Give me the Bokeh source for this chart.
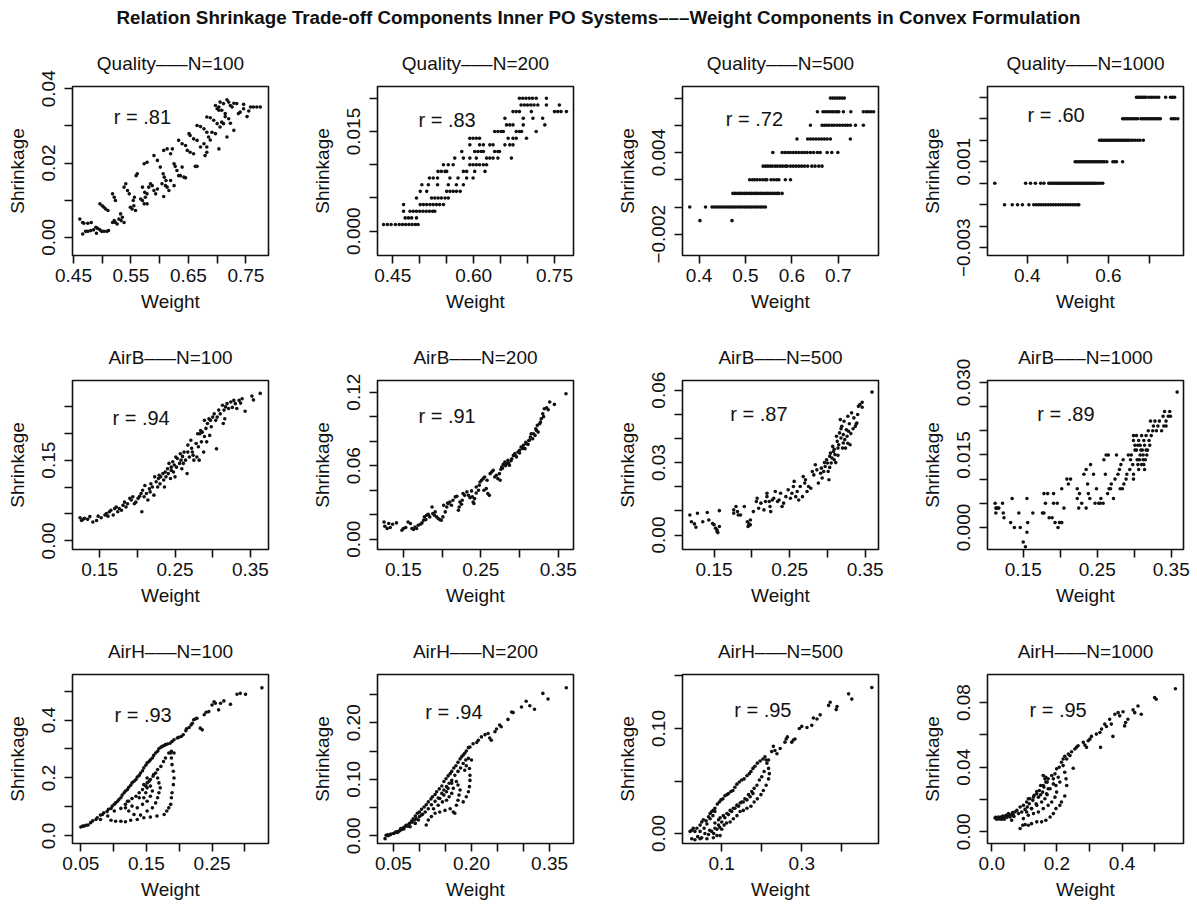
import math
from bokeh.plotting import figure
from bokeh.models import FixedTicker, Range1d, Label, Div
from bokeh.layouts import gridplot, column
from bokeh.embed import file_html
from bokeh.resources import INLINE

FONT = "Liberation Sans"

# ---- (weight, shrinkage) pairs per design ----
quality_100 = [
    (0.461, 0.0049), (0.466, 0.0040), (0.468, 0.0038), (0.475, 0.0038), (0.481, 0.0040),
    (0.466, 0.0009), (0.471, 0.0016), (0.475, 0.0016), (0.480, 0.0018), (0.485, 0.0020),
    (0.489, 0.0027), (0.492, 0.0024), (0.490, 0.0011), (0.496, 0.0020), (0.499, 0.0016),
    (0.503, 0.0016), (0.508, 0.0016), (0.511, 0.0018), (0.496, 0.0090), (0.500, 0.0085),
    (0.503, 0.0081), (0.506, 0.0076), (0.510, 0.0072), (0.518, 0.0117), (0.521, 0.0108),
    (0.523, 0.0099), (0.521, 0.0045), (0.523, 0.0040), (0.526, 0.0036), (0.518, 0.0040),
    (0.529, 0.0049), (0.533, 0.0045), (0.538, 0.0040), (0.535, 0.0054), (0.532, 0.0063),
    (0.538, 0.0135), (0.541, 0.0144), (0.544, 0.0126), (0.547, 0.0117), (0.549, 0.0081),
    (0.552, 0.0076), (0.555, 0.0085), (0.558, 0.0072), (0.554, 0.0099), (0.556, 0.0108),
    (0.559, 0.0166), (0.561, 0.0171), (0.567, 0.0103), (0.570, 0.0099), (0.573, 0.0090),
    (0.575, 0.0108), (0.578, 0.0090), (0.570, 0.0135), (0.574, 0.0121), (0.578, 0.0117),
    (0.573, 0.0198), (0.578, 0.0202), (0.581, 0.0135), (0.584, 0.0144), (0.587, 0.0139),
    (0.590, 0.0126), (0.593, 0.0117), (0.596, 0.0130), (0.590, 0.0220), (0.596, 0.0207),
    (0.601, 0.0189), (0.606, 0.0171), (0.608, 0.0162), (0.611, 0.0153), (0.607, 0.0110),
    (0.604, 0.0144), (0.610, 0.0139), (0.613, 0.0135), (0.616, 0.0126), (0.619, 0.0153),
    (0.625, 0.0139), (0.607, 0.0234), (0.613, 0.0238), (0.619, 0.0225), (0.622, 0.0238),
    (0.625, 0.0198), (0.627, 0.0191), (0.630, 0.0180), (0.633, 0.0166), (0.636, 0.0166),
    (0.639, 0.0189), (0.642, 0.0162), (0.645, 0.0160), (0.633, 0.0261), (0.639, 0.0252),
    (0.645, 0.0247), (0.648, 0.0234), (0.653, 0.0229), (0.659, 0.0225), (0.662, 0.0191),
    (0.665, 0.0191), (0.651, 0.0279), (0.653, 0.0274), (0.659, 0.0265), (0.665, 0.0261),
    (0.671, 0.0243), (0.677, 0.0252), (0.682, 0.0229), (0.679, 0.0220), (0.682, 0.0243),
    (0.665, 0.0301), (0.671, 0.0298), (0.677, 0.0292), (0.682, 0.0283), (0.685, 0.0270),
    (0.688, 0.0262), (0.691, 0.0283), (0.697, 0.0279), (0.703, 0.0238), (0.682, 0.0324),
    (0.688, 0.0322), (0.694, 0.0315), (0.700, 0.0306), (0.705, 0.0297), (0.708, 0.0310),
    (0.711, 0.0306), (0.717, 0.0270), (0.697, 0.0355), (0.703, 0.0351), (0.708, 0.0342),
    (0.714, 0.0333), (0.720, 0.0319), (0.723, 0.0307), (0.729, 0.0288), (0.700, 0.0346),
    (0.705, 0.0364), (0.711, 0.0360), (0.717, 0.0370), (0.720, 0.0364), (0.723, 0.0355),
    (0.726, 0.0351), (0.729, 0.0361), (0.734, 0.0360), (0.737, 0.0333), (0.740, 0.0337),
    (0.746, 0.0346), (0.752, 0.0325), (0.755, 0.0340), (0.758, 0.0351), (0.763, 0.0351),
    (0.769, 0.0351), (0.775, 0.0351), (0.746, 0.0358), (0.703, 0.0342), (0.714, 0.0325),
]

quality_200 = [
    (0.433, 0.001), (0.440, 0.001), (0.447, 0.001), (0.455, 0.001), (0.462, 0.001), (0.468, 0.001),
    (0.474, 0.001), (0.480, 0.001), (0.486, 0.001), (0.492, 0.001), (0.497, 0.001),
    (0.473, 0.002), (0.479, 0.002), (0.485, 0.002), (0.494, 0.002),
    (0.470, 0.003), (0.482, 0.003), (0.488, 0.003), (0.494, 0.003), (0.500, 0.003), (0.506, 0.003),
    (0.512, 0.003), (0.518, 0.003), (0.524, 0.003), (0.528, 0.003),
    (0.470, 0.004), (0.501, 0.004), (0.507, 0.004), (0.513, 0.004), (0.519, 0.004), (0.525, 0.004),
    (0.531, 0.004), (0.537, 0.004), (0.544, 0.004),
    (0.494, 0.005), (0.522, 0.005), (0.528, 0.005), (0.534, 0.005), (0.540, 0.005), (0.547, 0.005),
    (0.553, 0.005),
    (0.501, 0.006), (0.513, 0.006), (0.550, 0.006), (0.556, 0.006), (0.562, 0.006), (0.568, 0.006),
    (0.575, 0.006),
    (0.504, 0.007), (0.516, 0.007), (0.533, 0.007), (0.553, 0.007), (0.568, 0.007), (0.581, 0.007),
    (0.518, 0.008), (0.525, 0.008), (0.533, 0.008), (0.556, 0.008), (0.571, 0.008), (0.587, 0.008),
    (0.599, 0.008),
    (0.534, 0.009), (0.540, 0.009), (0.547, 0.009), (0.550, 0.009), (0.581, 0.009), (0.587, 0.009),
    (0.602, 0.009), (0.621, 0.009),
    (0.544, 0.010), (0.553, 0.010), (0.562, 0.010), (0.593, 0.010), (0.599, 0.010), (0.605, 0.010),
    (0.611, 0.010), (0.618, 0.010), (0.624, 0.010),
    (0.565, 0.011), (0.581, 0.011), (0.593, 0.011), (0.605, 0.011), (0.624, 0.011), (0.630, 0.011),
    (0.636, 0.011), (0.645, 0.011), (0.670, 0.011),
    (0.578, 0.012), (0.602, 0.012), (0.608, 0.012), (0.614, 0.012), (0.618, 0.012), (0.639, 0.012),
    (0.645, 0.012), (0.648, 0.012),
    (0.593, 0.013), (0.611, 0.013), (0.618, 0.013), (0.630, 0.013), (0.636, 0.013), (0.658, 0.013),
    (0.667, 0.013), (0.673, 0.013),
    (0.593, 0.014), (0.599, 0.014), (0.605, 0.014), (0.611, 0.014), (0.664, 0.014), (0.673, 0.014),
    (0.679, 0.014), (0.698, 0.014),
    (0.639, 0.015), (0.645, 0.015), (0.651, 0.015), (0.655, 0.015), (0.679, 0.015), (0.685, 0.015),
    (0.689, 0.015), (0.716, 0.015),
    (0.661, 0.016), (0.667, 0.016), (0.673, 0.016), (0.692, 0.016), (0.732, 0.016),
    (0.658, 0.017), (0.692, 0.017), (0.710, 0.017), (0.728, 0.017),
    (0.673, 0.018), (0.679, 0.018), (0.685, 0.018), (0.707, 0.018), (0.750, 0.018), (0.756, 0.018),
    (0.762, 0.018), (0.772, 0.018),
    (0.688, 0.019), (0.694, 0.019), (0.700, 0.019), (0.706, 0.019), (0.712, 0.019), (0.719, 0.019),
    (0.735, 0.019), (0.759, 0.019),
    (0.685, 0.020), (0.691, 0.020), (0.697, 0.020), (0.703, 0.020), (0.709, 0.020), (0.716, 0.020),
    (0.735, 0.020),
]

quality_500 = [
    (0.683, 0.008), (0.688, 0.008), (0.693, 0.008), (0.698, 0.008), (0.703, 0.008), (0.708, 0.008),
    (0.713, 0.008),
    (0.655, 0.007), (0.667, 0.007), (0.672, 0.007), (0.677, 0.007), (0.682, 0.007), (0.687, 0.007),
    (0.692, 0.007), (0.697, 0.007), (0.701, 0.007), (0.711, 0.007), (0.727, 0.007), (0.754, 0.007),
    (0.760, 0.007), (0.765, 0.007), (0.770, 0.007), (0.776, 0.007),
    (0.640, 0.006), (0.665, 0.006), (0.670, 0.006), (0.675, 0.006), (0.680, 0.006), (0.686, 0.006),
    (0.691, 0.006), (0.697, 0.006), (0.703, 0.006), (0.709, 0.006), (0.715, 0.006), (0.720, 0.006),
    (0.726, 0.006), (0.737, 0.006), (0.754, 0.006),
    (0.611, 0.005), (0.634, 0.005), (0.640, 0.005), (0.646, 0.005), (0.652, 0.005), (0.658, 0.005),
    (0.664, 0.005), (0.670, 0.005), (0.676, 0.005), (0.683, 0.005), (0.726, 0.005),
    (0.559, 0.004), (0.579, 0.004), (0.585, 0.004), (0.591, 0.004), (0.597, 0.004), (0.603, 0.004),
    (0.609, 0.004), (0.615, 0.004), (0.621, 0.004), (0.627, 0.004), (0.633, 0.004), (0.640, 0.004),
    (0.647, 0.004), (0.655, 0.004), (0.661, 0.004), (0.676, 0.004), (0.686, 0.004), (0.699, 0.004),
    (0.538, 0.003), (0.543, 0.003), (0.548, 0.003), (0.553, 0.003), (0.558, 0.003), (0.564, 0.003),
    (0.569, 0.003), (0.575, 0.003), (0.580, 0.003), (0.586, 0.003), (0.590, 0.003), (0.597, 0.003),
    (0.603, 0.003), (0.609, 0.003), (0.615, 0.003), (0.621, 0.003), (0.627, 0.003), (0.634, 0.003),
    (0.643, 0.003), (0.650, 0.003), (0.658, 0.003), (0.665, 0.003),
    (0.509, 0.002), (0.515, 0.002), (0.520, 0.002), (0.525, 0.002), (0.531, 0.002), (0.537, 0.002),
    (0.543, 0.002), (0.546, 0.002), (0.555, 0.002), (0.561, 0.002), (0.567, 0.002), (0.572, 0.002),
    (0.586, 0.002), (0.597, 0.002),
    (0.473, 0.001), (0.478, 0.001), (0.483, 0.001), (0.488, 0.001), (0.493, 0.001), (0.498, 0.001),
    (0.503, 0.001), (0.508, 0.001), (0.513, 0.001), (0.518, 0.001), (0.523, 0.001), (0.528, 0.001),
    (0.533, 0.001), (0.538, 0.001), (0.543, 0.001), (0.548, 0.001), (0.553, 0.001), (0.558, 0.001),
    (0.563, 0.001), (0.568, 0.001), (0.572, 0.001), (0.579, 0.001),
    (0.380, 0.000), (0.414, 0.000), (0.428, 0.000), (0.433, 0.000), (0.438, 0.000), (0.443, 0.000),
    (0.448, 0.000), (0.453, 0.000), (0.458, 0.000), (0.463, 0.000), (0.468, 0.000), (0.473, 0.000),
    (0.478, 0.000), (0.483, 0.000), (0.488, 0.000), (0.493, 0.000), (0.498, 0.000), (0.503, 0.000),
    (0.508, 0.000), (0.513, 0.000), (0.518, 0.000), (0.523, 0.000), (0.528, 0.000), (0.533, 0.000),
    (0.538, 0.000), (0.543, 0.000),
    (0.402, -0.001), (0.471, -0.001),
]

quality_1000 = [
    (0.669, 0.004), (0.673, 0.004), (0.677, 0.004), (0.681, 0.004), (0.685, 0.004), (0.689, 0.004),
    (0.693, 0.004), (0.700, 0.004), (0.706, 0.004), (0.712, 0.004), (0.718, 0.004), (0.724, 0.004),
    (0.741, 0.004), (0.753, 0.004), (0.758, 0.004), (0.763, 0.004),
    (0.635, 0.003), (0.639, 0.003), (0.643, 0.003), (0.647, 0.003), (0.651, 0.003), (0.655, 0.003),
    (0.659, 0.003), (0.664, 0.003), (0.668, 0.003), (0.672, 0.003), (0.680, 0.003), (0.684, 0.003),
    (0.688, 0.003), (0.692, 0.003), (0.696, 0.003), (0.700, 0.003), (0.704, 0.003), (0.708, 0.003),
    (0.712, 0.003), (0.716, 0.003), (0.720, 0.003), (0.724, 0.003), (0.728, 0.003), (0.755, 0.003),
    (0.760, 0.003), (0.765, 0.003), (0.771, 0.003),
    (0.578, 0.002), (0.582, 0.002), (0.586, 0.002), (0.590, 0.002), (0.594, 0.002), (0.598, 0.002),
    (0.602, 0.002), (0.606, 0.002), (0.610, 0.002), (0.614, 0.002), (0.618, 0.002), (0.622, 0.002),
    (0.626, 0.002), (0.630, 0.002), (0.634, 0.002), (0.638, 0.002), (0.642, 0.002), (0.646, 0.002),
    (0.650, 0.002), (0.655, 0.002), (0.660, 0.002), (0.666, 0.002), (0.672, 0.002), (0.678, 0.002),
    (0.686, 0.002),
    (0.518, 0.001), (0.522, 0.001), (0.526, 0.001), (0.530, 0.001), (0.534, 0.001), (0.538, 0.001),
    (0.542, 0.001), (0.546, 0.001), (0.550, 0.001), (0.554, 0.001), (0.558, 0.001), (0.562, 0.001),
    (0.566, 0.001), (0.570, 0.001), (0.574, 0.001), (0.578, 0.001), (0.582, 0.001), (0.586, 0.001),
    (0.590, 0.001), (0.596, 0.001), (0.611, 0.001), (0.616, 0.001), (0.620, 0.001), (0.635, 0.001),
    (0.320, 0.000), (0.396, 0.000), (0.408, 0.000), (0.420, 0.000), (0.433, 0.000), (0.441, 0.000),
    (0.453, 0.000), (0.457, 0.000), (0.461, 0.000), (0.465, 0.000), (0.469, 0.000), (0.473, 0.000),
    (0.477, 0.000), (0.481, 0.000), (0.485, 0.000), (0.489, 0.000), (0.493, 0.000), (0.497, 0.000),
    (0.501, 0.000), (0.505, 0.000), (0.509, 0.000), (0.513, 0.000), (0.517, 0.000), (0.521, 0.000),
    (0.525, 0.000), (0.529, 0.000), (0.533, 0.000), (0.537, 0.000), (0.541, 0.000), (0.545, 0.000),
    (0.549, 0.000), (0.553, 0.000), (0.557, 0.000), (0.561, 0.000), (0.565, 0.000), (0.569, 0.000),
    (0.574, 0.000), (0.580, 0.000), (0.586, 0.000),
    (0.344, -0.001), (0.363, -0.001), (0.376, -0.001), (0.388, -0.001), (0.404, -0.001),
    (0.416, -0.001), (0.422, -0.001), (0.428, -0.001), (0.434, -0.001), (0.440, -0.001),
    (0.446, -0.001), (0.452, -0.001), (0.458, -0.001), (0.464, -0.001), (0.470, -0.001),
    (0.476, -0.001), (0.482, -0.001), (0.488, -0.001), (0.494, -0.001), (0.500, -0.001),
    (0.506, -0.001), (0.512, -0.001), (0.518, -0.001), (0.524, -0.001), (0.527, -0.001),
]

airb_100 = [
    (0.124, 0.043), (0.126, 0.038), (0.128, 0.040), (0.130, 0.042), (0.134, 0.040), (0.137, 0.045),
    (0.141, 0.035), (0.146, 0.038), (0.148, 0.046), (0.152, 0.043), (0.157, 0.048), (0.159, 0.051),
    (0.161, 0.046), (0.163, 0.054), (0.165, 0.057), (0.168, 0.048), (0.170, 0.060), (0.172, 0.063),
    (0.174, 0.054), (0.176, 0.060), (0.179, 0.057), (0.181, 0.066), (0.183, 0.072), (0.185, 0.063),
    (0.187, 0.069), (0.190, 0.079), (0.192, 0.076), (0.194, 0.082), (0.196, 0.069), (0.198, 0.072),
    (0.201, 0.079), (0.203, 0.083), (0.205, 0.088), (0.206, 0.054), (0.207, 0.094), (0.209, 0.082),
    (0.210, 0.103), (0.212, 0.088), (0.214, 0.076), (0.216, 0.097), (0.217, 0.091), (0.218, 0.106),
    (0.220, 0.100), (0.222, 0.085), (0.223, 0.119), (0.225, 0.110), (0.227, 0.100), (0.228, 0.116),
    (0.229, 0.122), (0.230, 0.106), (0.231, 0.119), (0.234, 0.125), (0.235, 0.113), (0.236, 0.100),
    (0.237, 0.128), (0.238, 0.119), (0.240, 0.134), (0.241, 0.125), (0.242, 0.144), (0.244, 0.116),
    (0.245, 0.131), (0.245, 0.137), (0.247, 0.147), (0.248, 0.128), (0.249, 0.141), (0.250, 0.119),
    (0.251, 0.156), (0.252, 0.137), (0.253, 0.153), (0.256, 0.144), (0.257, 0.162), (0.258, 0.150),
    (0.259, 0.134), (0.260, 0.157), (0.261, 0.144), (0.262, 0.165), (0.264, 0.150), (0.266, 0.125),
    (0.267, 0.165), (0.267, 0.178), (0.269, 0.156), (0.271, 0.187), (0.272, 0.172), (0.273, 0.165),
    (0.274, 0.159), (0.275, 0.150), (0.278, 0.181), (0.279, 0.156), (0.280, 0.199), (0.281, 0.175),
    (0.282, 0.150), (0.283, 0.199), (0.284, 0.205), (0.285, 0.184), (0.286, 0.202), (0.288, 0.165),
    (0.289, 0.224), (0.289, 0.194), (0.291, 0.209), (0.292, 0.184), (0.293, 0.218), (0.295, 0.227),
    (0.296, 0.196), (0.297, 0.224), (0.298, 0.212), (0.300, 0.230), (0.302, 0.236), (0.304, 0.224),
    (0.305, 0.171), (0.306, 0.230), (0.308, 0.243), (0.310, 0.236), (0.313, 0.252), (0.314, 0.218),
    (0.315, 0.243), (0.316, 0.227), (0.317, 0.249), (0.319, 0.255), (0.321, 0.246), (0.324, 0.258),
    (0.326, 0.248), (0.328, 0.261), (0.330, 0.255), (0.332, 0.246), (0.335, 0.261), (0.337, 0.256),
    (0.339, 0.264), (0.343, 0.241), (0.352, 0.269), (0.354, 0.262), (0.363, 0.274),
]

airb_200 = [
    (0.125, 0.0141), (0.126, 0.0106), (0.129, 0.0087), (0.131, 0.0128), (0.133, 0.0095),
    (0.136, 0.0122), (0.141, 0.0133), (0.148, 0.0073), (0.150, 0.0087), (0.153, 0.0095),
    (0.156, 0.0141), (0.159, 0.0128), (0.161, 0.0087), (0.163, 0.0079), (0.165, 0.0100),
    (0.167, 0.0087), (0.169, 0.0114), (0.172, 0.0122), (0.174, 0.0133), (0.176, 0.0155),
    (0.177, 0.0182), (0.179, 0.0160), (0.180, 0.0195), (0.182, 0.0204), (0.184, 0.0182),
    (0.187, 0.0263), (0.188, 0.0209), (0.190, 0.0195), (0.191, 0.0223), (0.193, 0.0182),
    (0.195, 0.0168), (0.197, 0.0160), (0.199, 0.0155), (0.201, 0.0182), (0.202, 0.0277),
    (0.204, 0.0223), (0.206, 0.0263), (0.207, 0.0296), (0.208, 0.0291), (0.210, 0.0304),
    (0.212, 0.0277), (0.214, 0.0318), (0.217, 0.0345), (0.219, 0.0350), (0.221, 0.0236),
    (0.222, 0.0263), (0.223, 0.0304), (0.225, 0.0285), (0.226, 0.0318), (0.227, 0.0372),
    (0.229, 0.0358), (0.232, 0.0386), (0.234, 0.0358), (0.236, 0.0339), (0.238, 0.0394),
    (0.239, 0.0345), (0.240, 0.0304), (0.241, 0.0291), (0.242, 0.0331), (0.244, 0.0377),
    (0.244, 0.0426), (0.247, 0.0399), (0.248, 0.0440), (0.249, 0.0467), (0.251, 0.0481),
    (0.253, 0.0494), (0.254, 0.0399), (0.255, 0.0508), (0.257, 0.0413), (0.258, 0.0481),
    (0.259, 0.0372), (0.261, 0.0358), (0.262, 0.0535), (0.264, 0.0548), (0.266, 0.0562),
    (0.268, 0.0508), (0.270, 0.0521), (0.272, 0.0494), (0.274, 0.0535), (0.275, 0.0481),
    (0.277, 0.0589), (0.279, 0.0611), (0.281, 0.0630), (0.283, 0.0616), (0.285, 0.0643),
    (0.287, 0.0603), (0.290, 0.0657), (0.292, 0.0684), (0.294, 0.0698), (0.296, 0.0671),
    (0.298, 0.0711), (0.300, 0.0703), (0.302, 0.0752), (0.305, 0.0766), (0.307, 0.0739),
    (0.309, 0.0779), (0.311, 0.0774), (0.312, 0.0806), (0.314, 0.0834), (0.315, 0.0861),
    (0.317, 0.0820), (0.320, 0.0847), (0.322, 0.0888), (0.323, 0.0929), (0.324, 0.0874),
    (0.326, 0.0942), (0.328, 0.0983), (0.330, 0.1024), (0.332, 0.1064), (0.335, 0.1073),
    (0.337, 0.1056), (0.339, 0.1119), (0.345, 0.1100), (0.360, 0.1187),
    (0.300, 0.0725), (0.304, 0.0740), (0.308, 0.0790), (0.313, 0.0810), (0.318, 0.0860),
    (0.321, 0.0900), (0.327, 0.0955), (0.331, 0.1000), (0.295, 0.0680), (0.289, 0.0640),
    (0.286, 0.0620), (0.282, 0.0600), (0.278, 0.0580), (0.276, 0.0570),
]

airb_500 = [
    (0.118, 0.0083), (0.120, 0.0055), (0.124, 0.0046), (0.126, 0.0032), (0.128, 0.0090),
    (0.135, 0.0055), (0.141, 0.0093), (0.143, 0.0062), (0.148, 0.0048), (0.150, 0.0042),
    (0.152, 0.0028), (0.154, 0.0014), (0.154, 0.0021), (0.157, 0.0035), (0.157, 0.0101),
    (0.155, 0.0010), (0.176, 0.0104), (0.176, 0.0090), (0.179, 0.0118), (0.181, 0.0097),
    (0.182, 0.0083), (0.185, 0.0083), (0.190, 0.0118), (0.194, 0.0055), (0.195, 0.0035),
    (0.196, 0.0046), (0.198, 0.0062), (0.198, 0.0042), (0.202, 0.0097), (0.206, 0.0139),
    (0.207, 0.0152), (0.209, 0.0111), (0.212, 0.0132), (0.216, 0.0104), (0.218, 0.0139),
    (0.220, 0.0159), (0.220, 0.0173), (0.223, 0.0139), (0.224, 0.0118), (0.225, 0.0097),
    (0.227, 0.0145), (0.229, 0.0152), (0.231, 0.0180), (0.234, 0.0139), (0.236, 0.0145),
    (0.238, 0.0173), (0.240, 0.0118), (0.242, 0.0132), (0.245, 0.0159), (0.248, 0.0187),
    (0.251, 0.0152), (0.253, 0.0173), (0.255, 0.0201), (0.256, 0.0222), (0.258, 0.0159),
    (0.260, 0.0180), (0.262, 0.0145), (0.264, 0.0201), (0.267, 0.0159), (0.268, 0.0242),
    (0.270, 0.0215), (0.271, 0.0229), (0.273, 0.0180), (0.275, 0.0201), (0.278, 0.0194),
    (0.280, 0.0263), (0.282, 0.0249), (0.284, 0.0291), (0.286, 0.0270), (0.288, 0.0215),
    (0.291, 0.0256), (0.292, 0.0277), (0.293, 0.0236), (0.295, 0.0263), (0.297, 0.0284),
    (0.299, 0.0312), (0.300, 0.0298), (0.301, 0.0263), (0.302, 0.0229), (0.303, 0.0326),
    (0.304, 0.0339), (0.305, 0.0298), (0.306, 0.0319), (0.307, 0.0367), (0.308, 0.0346),
    (0.309, 0.0312), (0.310, 0.0333), (0.312, 0.0409), (0.313, 0.0388), (0.314, 0.0360),
    (0.315, 0.0374), (0.316, 0.0423), (0.317, 0.0478), (0.318, 0.0402), (0.319, 0.0450),
    (0.321, 0.0381), (0.321, 0.0416), (0.322, 0.0471), (0.324, 0.0360), (0.325, 0.0436),
    (0.326, 0.0409), (0.327, 0.0492), (0.328, 0.0430), (0.329, 0.0461), (0.330, 0.0374),
    (0.332, 0.0506), (0.335, 0.0485), (0.337, 0.0450), (0.339, 0.0464), (0.340, 0.0499),
    (0.341, 0.0533), (0.343, 0.0540), (0.346, 0.0550), (0.346, 0.0529), (0.359, 0.0592),
    (0.296, 0.0300), (0.303, 0.0280), (0.309, 0.0355), (0.311, 0.0300), (0.314, 0.0330),
    (0.318, 0.0440), (0.320, 0.0360), (0.323, 0.0395), (0.327, 0.0380), (0.331, 0.0420),
    (0.334, 0.0440), (0.338, 0.0460),
]

airb_1000 = [
    (0.112, 0.005), (0.113, 0.004), (0.114, 0.004), (0.116, 0.004), (0.117, 0.004), (0.113, 0.003),
    (0.122, 0.005), (0.123, 0.003), (0.124, 0.002), (0.133, 0.001), (0.135, 0.006), (0.138, 0.000),
    (0.144, 0.003), (0.146, 0.000), (0.150, -0.003), (0.153, -0.004), (0.155, 0.006), (0.155, -0.001),
    (0.156, 0.001), (0.163, 0.003), (0.176, 0.003), (0.178, 0.003), (0.178, 0.007), (0.183, 0.007),
    (0.180, 0.005), (0.185, 0.002), (0.191, 0.007), (0.191, 0.005), (0.189, 0.002), (0.193, 0.001),
    (0.196, 0.005), (0.197, 0.000), (0.199, 0.001), (0.202, 0.001), (0.202, 0.008), (0.205, 0.004),
    (0.209, 0.010), (0.211, 0.009), (0.214, 0.010), (0.223, 0.006), (0.223, 0.008), (0.225, 0.004),
    (0.226, 0.007), (0.229, 0.005), (0.232, 0.011), (0.235, 0.004), (0.235, 0.012), (0.237, 0.009),
    (0.238, 0.007), (0.240, 0.006), (0.241, 0.013), (0.245, 0.011), (0.247, 0.005), (0.249, 0.008),
    (0.252, 0.005), (0.254, 0.005), (0.255, 0.006), (0.258, 0.005), (0.259, 0.014), (0.261, 0.011),
    (0.262, 0.015), (0.264, 0.007), (0.265, 0.015), (0.266, 0.008), (0.268, 0.008), (0.269, 0.009),
    (0.272, 0.006), (0.274, 0.010), (0.276, 0.015), (0.278, 0.011), (0.280, 0.012), (0.281, 0.008),
    (0.282, 0.013), (0.284, 0.008), (0.285, 0.014), (0.286, 0.009), (0.289, 0.010), (0.290, 0.011),
    (0.292, 0.015), (0.294, 0.012), (0.295, 0.014), (0.296, 0.015), (0.298, 0.013), (0.299, 0.011),
    (0.299, 0.010), (0.301, 0.016), (0.299, 0.018), (0.299, 0.019), (0.301, 0.017), (0.303, 0.019),
    (0.305, 0.013), (0.307, 0.014), (0.308, 0.015), (0.308, 0.017), (0.310, 0.019), (0.311, 0.016),
    (0.312, 0.014), (0.313, 0.018), (0.314, 0.017), (0.316, 0.016), (0.316, 0.019), (0.317, 0.015),
    (0.319, 0.020), (0.320, 0.018), (0.321, 0.017), (0.322, 0.022), (0.323, 0.019), (0.325, 0.020),
    (0.326, 0.021), (0.328, 0.022), (0.330, 0.020), (0.332, 0.021), (0.334, 0.022), (0.337, 0.020),
    (0.339, 0.023), (0.340, 0.021), (0.341, 0.024), (0.343, 0.022), (0.346, 0.023), (0.348, 0.024),
    (0.349, 0.023), (0.343, 0.021), (0.358, 0.028),
    (0.303, 0.016), (0.305, 0.017), (0.306, 0.018), (0.309, 0.016), (0.312, 0.015), (0.313, 0.013),
    (0.315, 0.014), (0.318, 0.016), (0.304, 0.014), (0.306, 0.012), (0.310, 0.013), (0.314, 0.012),
]

airh_100 = [
    (0.050, 0.031), (0.053, 0.034), (0.055, 0.034), (0.058, 0.037), (0.061, 0.038), (0.065, 0.046),
    (0.068, 0.052), (0.073, 0.057), (0.075, 0.063), (0.080, 0.072), (0.083, 0.074), (0.085, 0.080),
    (0.090, 0.084), (0.092, 0.092), (0.096, 0.095), (0.098, 0.103), (0.101, 0.109), (0.103, 0.114),
    (0.106, 0.120), (0.108, 0.126), (0.111, 0.132), (0.113, 0.141), (0.116, 0.149), (0.118, 0.155),
    (0.121, 0.160), (0.123, 0.168), (0.126, 0.175), (0.128, 0.183), (0.131, 0.189), (0.134, 0.195),
    (0.136, 0.203), (0.139, 0.209), (0.141, 0.217), (0.144, 0.225), (0.146, 0.235), (0.149, 0.244),
    (0.151, 0.252), (0.154, 0.257), (0.156, 0.263), (0.159, 0.269), (0.161, 0.278), (0.164, 0.286),
    (0.167, 0.292), (0.169, 0.301), (0.172, 0.306), (0.174, 0.309), (0.177, 0.312), (0.179, 0.315),
    (0.182, 0.317), (0.186, 0.320), (0.189, 0.326), (0.192, 0.332), (0.197, 0.338), (0.199, 0.340),
    (0.203, 0.343), (0.206, 0.349), (0.210, 0.363), (0.211, 0.370), (0.215, 0.374), (0.218, 0.383),
    (0.220, 0.389), (0.222, 0.401), (0.225, 0.404), (0.227, 0.406), (0.232, 0.372), (0.235, 0.366),
    (0.238, 0.418), (0.241, 0.427), (0.245, 0.429), (0.250, 0.452), (0.253, 0.463), (0.255, 0.458),
    (0.260, 0.435), (0.263, 0.458), (0.268, 0.466), (0.278, 0.454), (0.288, 0.489), (0.293, 0.492),
    (0.301, 0.489), (0.326, 0.511),
    (0.080, 0.057), (0.091, 0.069), (0.101, 0.086), (0.111, 0.095), (0.118, 0.109), (0.123, 0.120),
    (0.128, 0.129), (0.134, 0.137), (0.139, 0.149), (0.144, 0.160), (0.149, 0.172), (0.151, 0.183),
    (0.156, 0.195), (0.160, 0.206), (0.164, 0.217), (0.167, 0.229), (0.172, 0.240), (0.176, 0.257),
    (0.179, 0.269), (0.184, 0.286), (0.188, 0.292), (0.192, 0.286),
    (0.118, 0.097), (0.123, 0.086), (0.131, 0.074), (0.141, 0.072), (0.151, 0.086), (0.159, 0.097),
    (0.164, 0.114), (0.167, 0.132), (0.169, 0.149), (0.171, 0.166), (0.169, 0.183), (0.167, 0.200),
    (0.161, 0.212), (0.121, 0.120), (0.128, 0.103), (0.136, 0.097), (0.144, 0.109), (0.151, 0.120),
    (0.156, 0.137), (0.159, 0.155), (0.156, 0.172), (0.154, 0.189), (0.151, 0.200), (0.139, 0.132),
    (0.146, 0.132), (0.149, 0.149), (0.151, 0.166), (0.146, 0.177),
    (0.096, 0.054), (0.103, 0.051), (0.111, 0.051), (0.118, 0.049), (0.126, 0.054), (0.136, 0.057),
    (0.146, 0.063), (0.156, 0.065), (0.166, 0.069), (0.177, 0.074), (0.181, 0.086), (0.184, 0.097),
    (0.187, 0.109), (0.188, 0.132), (0.189, 0.149), (0.191, 0.177), (0.192, 0.200), (0.191, 0.223),
    (0.189, 0.246), (0.188, 0.269), (0.187, 0.286),
]

airh_200 = [
    (0.034, -0.005), (0.036, 0.001), (0.039, 0.002), (0.044, 0.002), (0.050, 0.004), (0.055, 0.007),
    (0.060, 0.008), (0.064, 0.013), (0.069, 0.014), (0.072, 0.016), (0.076, 0.019), (0.081, 0.022),
    (0.085, 0.026), (0.088, 0.030), (0.092, 0.035), (0.096, 0.040), (0.100, 0.042), (0.104, 0.047),
    (0.109, 0.051), (0.113, 0.055), (0.117, 0.060), (0.122, 0.065), (0.125, 0.069), (0.130, 0.073),
    (0.133, 0.078), (0.138, 0.083), (0.143, 0.088), (0.147, 0.096), (0.151, 0.101), (0.155, 0.106),
    (0.159, 0.110), (0.162, 0.114), (0.166, 0.120), (0.170, 0.124), (0.174, 0.130), (0.178, 0.136),
    (0.181, 0.140), (0.184, 0.143), (0.187, 0.146), (0.190, 0.150), (0.194, 0.156), (0.197, 0.157),
    (0.203, 0.163), (0.210, 0.165), (0.213, 0.169), (0.219, 0.175), (0.226, 0.179), (0.232, 0.181),
    (0.235, 0.173), (0.238, 0.169), (0.245, 0.184), (0.248, 0.189), (0.254, 0.196), (0.257, 0.193),
    (0.270, 0.206), (0.277, 0.219), (0.280, 0.218), (0.296, 0.228), (0.305, 0.238), (0.312, 0.230),
    (0.321, 0.224), (0.337, 0.252), (0.347, 0.242), (0.382, 0.262),
    (0.082, 0.016), (0.092, 0.022), (0.098, 0.028), (0.104, 0.037), (0.111, 0.042), (0.117, 0.048),
    (0.123, 0.055), (0.130, 0.061), (0.136, 0.067), (0.143, 0.075), (0.147, 0.081), (0.152, 0.087),
    (0.157, 0.093), (0.162, 0.098), (0.168, 0.107), (0.174, 0.114), (0.179, 0.120), (0.184, 0.128),
    (0.189, 0.134), (0.194, 0.137), (0.200, 0.134),
    (0.113, 0.019), (0.117, 0.028), (0.123, 0.034), (0.130, 0.040), (0.139, 0.042), (0.149, 0.045),
    (0.159, 0.048), (0.165, 0.042), (0.168, 0.040), (0.171, 0.054), (0.174, 0.063), (0.176, 0.072),
    (0.178, 0.081), (0.174, 0.090), (0.171, 0.096), (0.127, 0.048), (0.136, 0.054), (0.144, 0.060),
    (0.152, 0.063), (0.157, 0.069), (0.162, 0.075), (0.165, 0.084), (0.162, 0.093), (0.139, 0.066),
    (0.147, 0.072), (0.152, 0.078), (0.155, 0.084),
    (0.184, 0.060), (0.190, 0.069), (0.194, 0.078), (0.196, 0.087), (0.197, 0.098), (0.197, 0.107),
    (0.196, 0.119), (0.190, 0.124), (0.187, 0.116),
    (0.040, 0.000), (0.045, 0.003), (0.052, 0.005), (0.058, 0.006), (0.062, 0.009), (0.066, 0.011),
    (0.070, 0.012), (0.074, 0.018), (0.078, 0.017), (0.086, 0.024), (0.090, 0.028), (0.094, 0.030),
    (0.100, 0.034), (0.106, 0.038),
]

airh_500 = [
    (0.021, 0.002), (0.025, 0.003), (0.029, 0.005), (0.033, 0.002), (0.038, 0.005), (0.046, 0.008),
    (0.050, 0.011), (0.054, 0.013), (0.061, 0.012), (0.067, 0.016), (0.071, 0.019), (0.075, 0.021),
    (0.079, 0.022), (0.083, 0.024), (0.089, 0.028), (0.094, 0.030), (0.098, 0.032), (0.103, 0.033),
    (0.108, 0.036), (0.113, 0.037), (0.117, 0.038), (0.123, 0.040), (0.128, 0.041), (0.133, 0.044),
    (0.138, 0.047), (0.144, 0.049), (0.150, 0.051), (0.156, 0.052), (0.163, 0.055), (0.169, 0.057),
    (0.173, 0.059), (0.178, 0.062), (0.183, 0.064), (0.189, 0.067), (0.196, 0.069), (0.203, 0.071),
    (0.208, 0.073), (0.217, 0.070), (0.225, 0.078), (0.229, 0.083), (0.233, 0.079), (0.238, 0.076),
    (0.246, 0.081), (0.258, 0.087), (0.261, 0.090), (0.264, 0.092), (0.275, 0.087), (0.279, 0.089),
    (0.283, 0.090), (0.294, 0.100), (0.300, 0.102), (0.313, 0.101), (0.325, 0.103), (0.329, 0.110),
    (0.338, 0.109), (0.346, 0.113), (0.367, 0.122), (0.371, 0.125), (0.386, 0.118), (0.388, 0.121),
    (0.417, 0.133), (0.425, 0.128), (0.475, 0.139),
    (0.025, -0.005), (0.033, -0.006), (0.046, -0.005), (0.063, -0.005), (0.079, -0.004),
    (0.088, -0.002), (0.096, -0.002), (0.067, -0.001), (0.075, 0.002), (0.083, 0.005), (0.092, 0.008),
    (0.100, 0.011), (0.108, 0.015), (0.117, 0.018), (0.125, 0.021), (0.133, 0.024), (0.142, 0.026),
    (0.150, 0.030), (0.158, 0.033), (0.167, 0.037), (0.175, 0.040), (0.181, 0.043), (0.188, 0.046),
    (0.194, 0.051), (0.200, 0.054), (0.206, 0.059),
    (0.083, 0.010), (0.092, 0.013), (0.096, 0.015), (0.104, 0.017), (0.113, 0.019), (0.121, 0.022),
    (0.129, 0.024), (0.138, 0.027), (0.146, 0.029), (0.154, 0.030), (0.163, 0.032), (0.171, 0.035),
    (0.178, 0.038),
    (0.121, 0.011), (0.129, 0.014), (0.138, 0.017), (0.146, 0.021), (0.154, 0.022), (0.163, 0.024),
    (0.173, 0.026), (0.181, 0.030), (0.189, 0.033), (0.198, 0.037), (0.204, 0.041), (0.211, 0.046),
    (0.217, 0.052), (0.219, 0.057), (0.217, 0.062), (0.213, 0.067), (0.211, 0.070),
    (0.083, 0.021), (0.078, 0.017), (0.071, 0.014), (0.063, 0.009), (0.056, 0.005), (0.046, 0.002),
    (0.040, -0.003), (0.050, -0.004), (0.058, 0.000), (0.070, 0.003), (0.080, 0.000), (0.088, 0.004),
    (0.095, 0.006), (0.100, 0.004), (0.106, 0.008), (0.112, 0.010),
]

airh_1000 = [
    (0.010, 0.0086), (0.015, 0.0078), (0.020, 0.0092), (0.026, 0.0082), (0.031, 0.0086),
    (0.034, 0.0098), (0.038, 0.0078), (0.044, 0.0103), (0.051, 0.0113), (0.056, 0.0092),
    (0.061, 0.0072), (0.066, 0.0103), (0.071, 0.0123), (0.077, 0.0133), (0.082, 0.0113),
    (0.087, 0.0154), (0.092, 0.0123), (0.097, 0.0164), (0.102, 0.0139), (0.107, 0.0185),
    (0.109, 0.0154), (0.115, 0.0174), (0.117, 0.0205), (0.122, 0.0144), (0.126, 0.0195),
    (0.130, 0.0226), (0.136, 0.0174), (0.138, 0.0236), (0.143, 0.0215), (0.146, 0.0256),
    (0.150, 0.0287), (0.156, 0.0246), (0.160, 0.0277), (0.166, 0.0308), (0.168, 0.0236),
    (0.173, 0.0328), (0.179, 0.0267), (0.184, 0.0349), (0.189, 0.0297), (0.194, 0.0359),
    (0.199, 0.0390), (0.204, 0.0338), (0.209, 0.0308), (0.207, 0.0400), (0.214, 0.0431),
    (0.219, 0.0451), (0.224, 0.0468), (0.230, 0.0451), (0.235, 0.0482), (0.240, 0.0472),
    (0.245, 0.0496), (0.250, 0.0394), (0.255, 0.0513), (0.260, 0.0523), (0.265, 0.0533),
    (0.281, 0.0554), (0.286, 0.0537), (0.291, 0.0523), (0.296, 0.0564), (0.301, 0.0574),
    (0.306, 0.0591), (0.321, 0.0605), (0.332, 0.0615), (0.334, 0.0523), (0.337, 0.0636),
    (0.347, 0.0667), (0.352, 0.0652), (0.362, 0.0697), (0.367, 0.0667), (0.372, 0.0591),
    (0.378, 0.0728), (0.388, 0.0738), (0.393, 0.0718), (0.403, 0.0743), (0.408, 0.0656),
    (0.411, 0.0677), (0.418, 0.0697), (0.434, 0.0755), (0.439, 0.0738), (0.449, 0.0779),
    (0.459, 0.0728), (0.500, 0.0831), (0.505, 0.0821), (0.564, 0.0886),
    (0.087, 0.0021), (0.095, 0.0041), (0.102, 0.0045), (0.112, 0.0041), (0.122, 0.0051),
    (0.138, 0.0062), (0.153, 0.0062), (0.166, 0.0072), (0.179, 0.0092), (0.189, 0.0113),
    (0.197, 0.0144), (0.209, 0.0164), (0.214, 0.0185), (0.224, 0.0222), (0.230, 0.0287),
    (0.228, 0.0328), (0.224, 0.0369), (0.219, 0.0410),
    (0.097, 0.0082), (0.112, 0.0103), (0.128, 0.0113), (0.143, 0.0123), (0.158, 0.0144),
    (0.173, 0.0164), (0.184, 0.0185), (0.194, 0.0215), (0.199, 0.0246), (0.197, 0.0287),
    (0.189, 0.0328), (0.107, 0.0123), (0.122, 0.0144), (0.138, 0.0164), (0.153, 0.0185),
    (0.163, 0.0205), (0.170, 0.0230), (0.173, 0.0267), (0.170, 0.0308), (0.163, 0.0328),
    (0.158, 0.0349), (0.112, 0.0205), (0.128, 0.0215), (0.138, 0.0250), (0.150, 0.0230),
    (0.158, 0.0287), (0.166, 0.0338),
    (0.012, 0.0090), (0.018, 0.0085), (0.022, 0.0080), (0.028, 0.0092), (0.030, 0.0078),
    (0.035, 0.0088), (0.040, 0.0095), (0.046, 0.0090), (0.052, 0.0100), (0.058, 0.0105),
    (0.064, 0.0120), (0.068, 0.0095),
]

# ---- per-panel axis setup ----
panels = [
    dict(title="Quality–––N=100", r="r = .81", pts=quality_100,
         xr=(0.4483, 0.7893), yr=(-0.0049, 0.0406),
         xt=[0.45, 0.50, 0.55, 0.60, 0.65, 0.70, 0.75],
         xl=["0.45", "", "0.55", "", "0.65", "", "0.75"],
         yt=[0.0, 0.01, 0.02, 0.03, 0.04], yl=["0.00", "", "0.02", "", "0.04"],
         rpos=(0.357, 0.178)),
    dict(title="Quality–––N=200", r="r = .83", pts=quality_200,
         xr=(0.4217, 0.7852), yr=(-0.00366, 0.02178),
         xt=[0.45, 0.50, 0.55, 0.60, 0.65, 0.70, 0.75],
         xl=["0.45", "", "", "0.60", "", "", "0.75"],
         yt=[0.0, 0.005, 0.01, 0.015, 0.02], yl=["0.000", "", "", "0.015", ""],
         rpos=(0.355, 0.20)),
    dict(title="Quality–––N=500", r="r = .72", pts=quality_500,
         xr=(0.3644, 0.7866), yr=(-0.00356, 0.00885),
         xt=[0.4, 0.5, 0.6, 0.7], xl=["0.4", "0.5", "0.6", "0.7"],
         yt=[-0.002, 0.0, 0.002, 0.004, 0.006, 0.008], yl=["−0.002", "", "", "0.004", "", ""],
         rpos=(0.367, 0.19)),
    dict(title="Quality–––N=1000", r="r = .60", pts=quality_1000,
         xr=(0.302, 0.785), yr=(-0.00336, 0.0045),
         xt=[0.4, 0.5, 0.6, 0.7], xl=["0.4", "", "0.6", ""],
         yt=[-0.003, -0.002, -0.001, 0.0, 0.001, 0.002, 0.003, 0.004],
         yl=["−0.003", "", "", "", "0.001", "", "", ""],
         rpos=(0.35, 0.17)),
    dict(title="AirB–––N=100", r="r = .94", pts=airb_100,
         xr=(0.114, 0.374), yr=(-0.016, 0.298),
         xt=[0.15, 0.20, 0.25, 0.30, 0.35], xl=["0.15", "", "0.25", "", "0.35"],
         yt=[0.0, 0.05, 0.10, 0.15, 0.20, 0.25], yl=["0.00", "", "", "0.15", "", ""],
         rpos=(0.35, 0.22)),
    dict(title="AirB–––N=200", r="r = .91", pts=airb_200,
         xr=(0.1165, 0.3697), yr=(-0.0084, 0.1295),
         xt=[0.15, 0.20, 0.25, 0.30, 0.35], xl=["0.15", "", "0.25", "", "0.35"],
         yt=[0.0, 0.02, 0.04, 0.06, 0.08, 0.10, 0.12], yl=["0.00", "", "", "0.06", "", "", "0.12"],
         rpos=(0.355, 0.21)),
    dict(title="AirB–––N=500", r="r = .87", pts=airb_500,
         xr=(0.1082, 0.3676), yr=(-0.006, 0.064),
         xt=[0.15, 0.20, 0.25, 0.30, 0.35], xl=["0.15", "", "0.25", "", "0.35"],
         yt=[0.0, 0.01, 0.02, 0.03, 0.04, 0.05, 0.06], yl=["0.00", "", "", "0.03", "", "", "0.06"],
         rpos=(0.39, 0.20)),
    dict(title="AirB–––N=1000", r="r = .89", pts=airb_1000,
         xr=(0.1017, 0.3666), yr=(-0.00456, 0.0304),
         xt=[0.15, 0.20, 0.25, 0.30, 0.35], xl=["0.15", "", "0.25", "", "0.35"],
         yt=[0.0, 0.005, 0.01, 0.015, 0.02, 0.025, 0.03],
         yl=["0.000", "", "", "0.015", "", "", "0.030"],
         rpos=(0.40, 0.20)),
    dict(title="AirH–––N=100", r="r = .93", pts=airh_100,
         xr=(0.0373, 0.336), yr=(-0.026, 0.557),
         xt=[0.05, 0.10, 0.15, 0.20, 0.25, 0.30], xl=["0.05", "", "0.15", "", "0.25", ""],
         yt=[0.0, 0.1, 0.2, 0.3, 0.4, 0.5], yl=["0.0", "", "0.2", "", "0.4", ""],
         rpos=(0.36, 0.24)),
    dict(title="AirH–––N=200", r="r = .94", pts=airh_200,
         xr=(0.0194, 0.3959), yr=(-0.0136, 0.2854),
         xt=[0.05, 0.10, 0.15, 0.20, 0.25, 0.30, 0.35],
         xl=["0.05", "", "", "0.20", "", "", "0.35"],
         yt=[0.0, 0.05, 0.10, 0.15, 0.20, 0.25], yl=["0.00", "", "0.10", "", "0.20", ""],
         rpos=(0.39, 0.22)),
    dict(title="AirH–––N=500", r="r = .95", pts=airh_500,
         xr=(0.002, 0.4917), yr=(-0.0095, 0.1514),
         xt=[0.1, 0.2, 0.3, 0.4], xl=["0.1", "", "0.3", ""],
         yt=[0.0, 0.05, 0.10, 0.15], yl=["0.00", "", "0.10", ""],
         rpos=(0.41, 0.21)),
    dict(title="AirH–––N=1000", r="r = .95", pts=airh_1000,
         xr=(-0.0133, 0.5888), yr=(-0.0072, 0.0974),
         xt=[0.0, 0.1, 0.2, 0.3, 0.4, 0.5], xl=["0.0", "", "0.2", "", "0.4", ""],
         yt=[0.0, 0.02, 0.04, 0.06, 0.08], yl=["0.00", "", "0.04", "", "0.08"],
         rpos=(0.36, 0.21)),
]


def style_axis(ax, ticks, labels, label_text):
    ax.ticker = FixedTicker(ticks=ticks, minor_ticks=[])
    ax.major_label_overrides = {t: s for t, s in zip(ticks, labels)}
    ax.axis_label = label_text
    ax.axis_label_text_font = FONT
    ax.axis_label_text_font_size = "19px"
    ax.axis_label_text_font_style = "normal"
    ax.axis_label_text_color = "#111111"
    ax.major_label_text_font = FONT
    ax.major_label_text_font_size = "19px"
    ax.major_label_text_color = "#111111"
    ax.axis_line_color = None
    ax.major_tick_out = 8
    ax.major_tick_in = 0
    ax.minor_tick_out = 0
    ax.minor_tick_in = 0
    ax.major_tick_line_width = 1.6
    ax.major_tick_line_color = "#111111"


def make_panel(spec, row, col):
    p = figure(
        frame_width=196, frame_height=169,
        x_range=Range1d(*spec["xr"]), y_range=Range1d(*spec["yr"]),
        toolbar_location=None, output_backend="svg",
        min_border_left=72, min_border_right=14 if col == 3 else 37,
        min_border_top=48, min_border_bottom=63 if row == 2 else 77,
        title=spec["title"],
    )
    p.background_fill_color = "white"
    p.border_fill_color = "white"
    p.grid.visible = False
    p.outline_line_color = "#111111"
    p.outline_line_width = 1.6

    p.title.text_font = FONT
    p.title.text_font_size = "19px"
    p.title.text_font_style = "normal"
    p.title.text_color = "#111111"
    p.title.align = "center"
    p.title.standoff = 25

    style_axis(p.xaxis[0], spec["xt"], spec["xl"], "Weight")
    p.xaxis[0].major_label_standoff = 5
    p.xaxis[0].axis_label_standoff = 6

    # y tick labels run along the axis, centred on their ticks
    style_axis(p.yaxis[0], spec["yt"], spec["yl"], "Shrinkage")
    p.yaxis[0].major_label_orientation = "vertical"
    p.yaxis[0].major_label_standoff = 9
    p.yaxis[0].axis_label_standoff = 12

    w = [pt[0] for pt in spec["pts"]]
    s = [pt[1] for pt in spec["pts"]]
    p.scatter(w, s, marker="circle", size=3.6, fill_color="#111111", line_color=None)

    x0, x1 = spec["xr"]
    y0, y1 = spec["yr"]
    fx, fy = spec["rpos"]
    p.add_layout(Label(
        x=x0 + fx * (x1 - x0), y=y1 - fy * (y1 - y0), text=spec["r"],
        text_align="center", text_baseline="middle",
        text_font=FONT, text_font_size="20px", text_color="#111111",
    ))
    return p


figs = [make_panel(spec, i // 4, i % 4) for i, spec in enumerate(panels)]
grid = gridplot([figs[0:4], figs[4:8], figs[8:12]], toolbar_location=None)

header = Div(
    text="Relation Shrinkage Trade-off Components Inner PO Systems–––Weight Components in Convex Formulation",
    width=1197, height=38, margin=(0, 0, 0, 0),
    styles={"font-family": FONT, "font-size": "18.8px", "font-weight": "bold",
            "text-align": "center", "line-height": "36px", "color": "#111111",
            "width": "1197px"},
)

layout = column(header, grid)
open("out.html", "w").write(file_html(layout, INLINE))
